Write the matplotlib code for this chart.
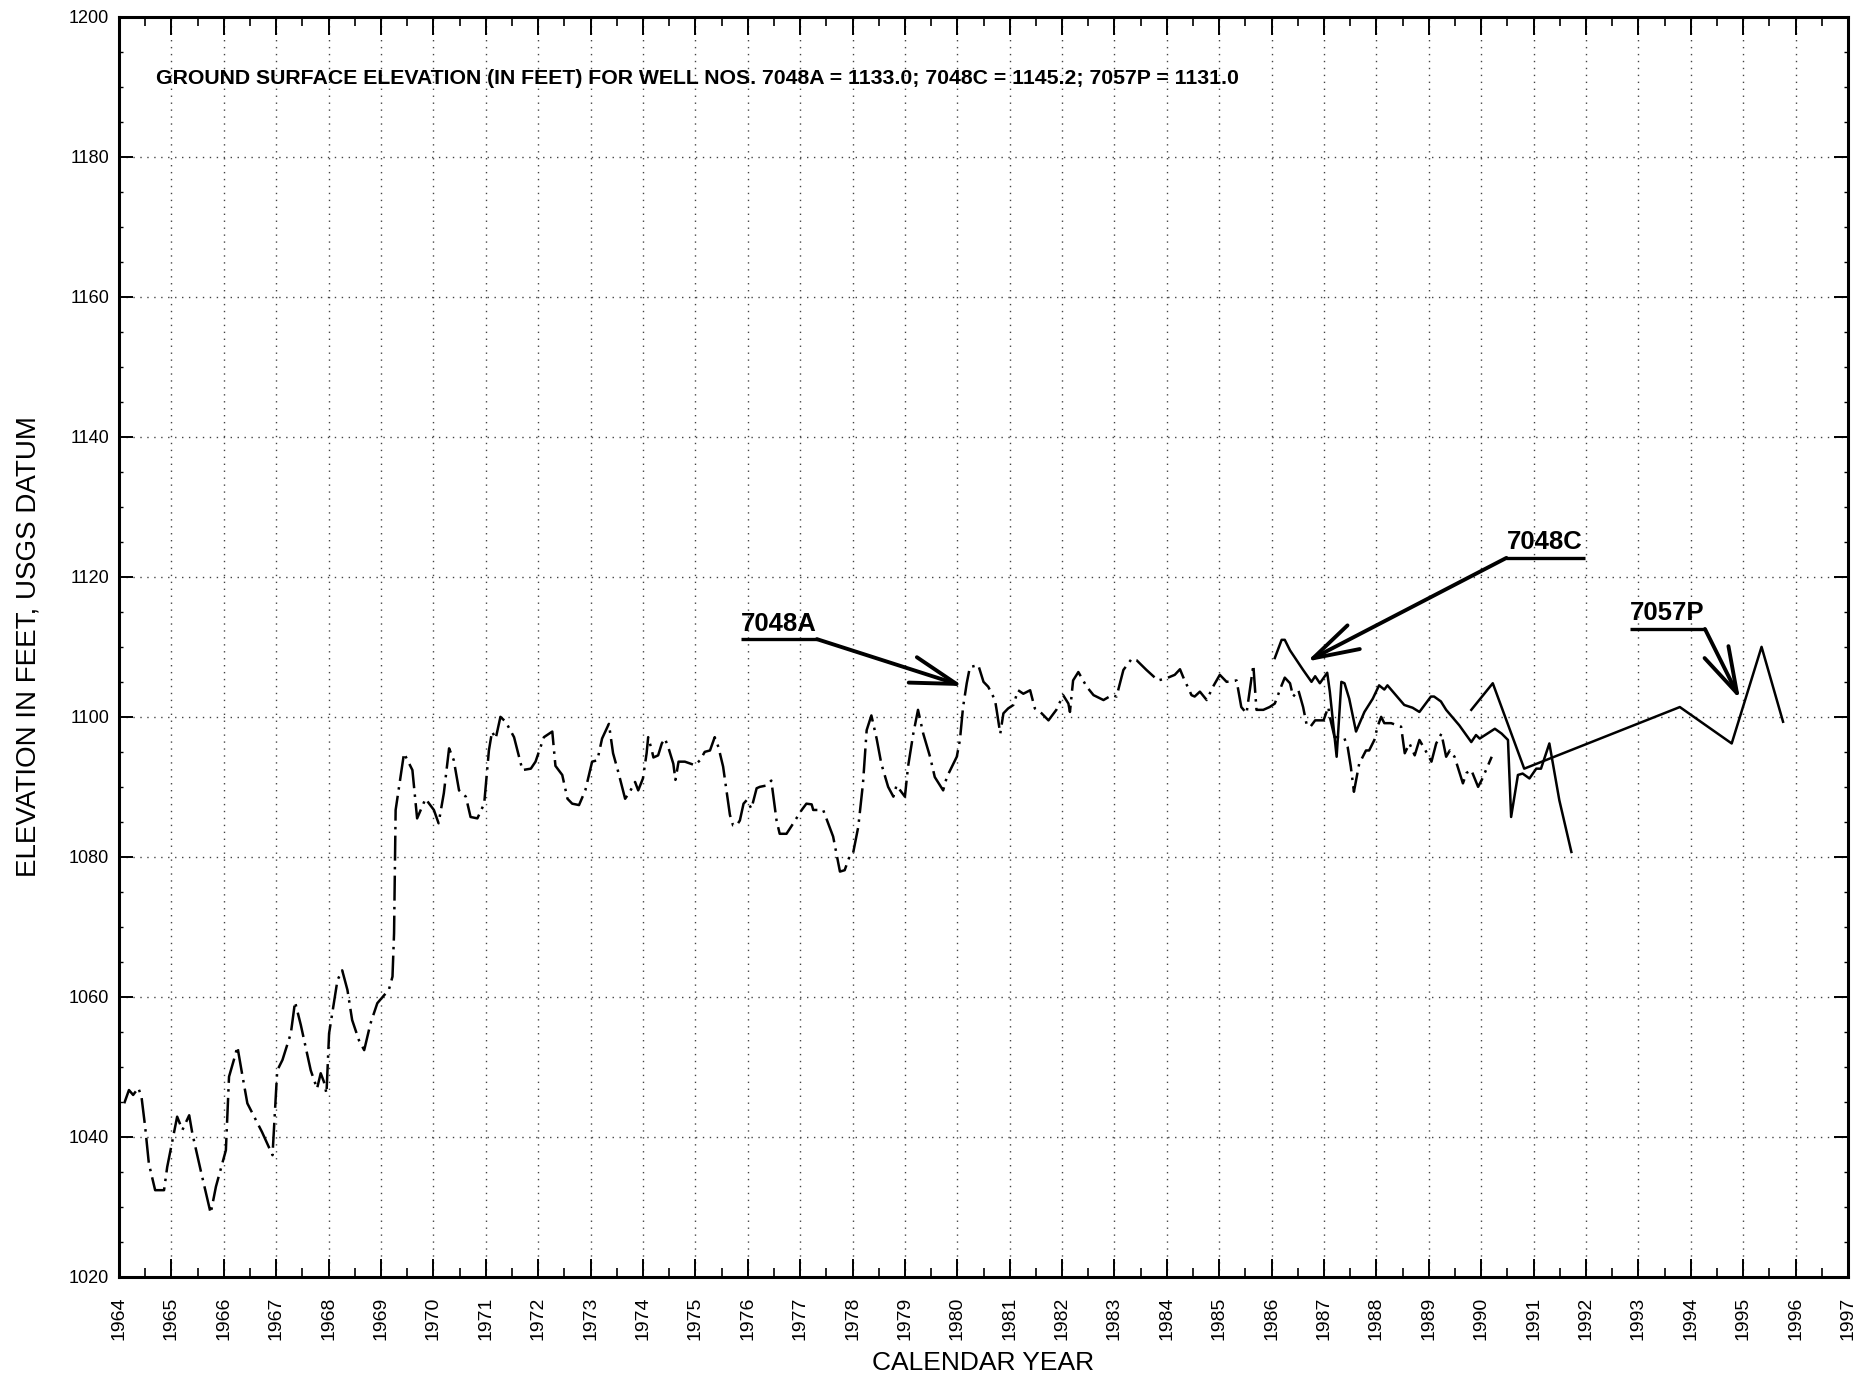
import numpy as np
import matplotlib.pyplot as plt
from matplotlib.ticker import MultipleLocator

plt.rcParams['font.family'] = ['Liberation Sans', 'DejaVu Sans']

# well 7048A water levels (decimal year, elevation ft)
yr_7048a = [1964.10, 1964.19, 1964.27, 1964.37, 1964.43, 1964.50, 1964.57, 1964.69, 1964.86, 1964.92,
            1965.02, 1965.11, 1965.21, 1965.34, 1965.40, 1965.56, 1965.75, 1965.85, 1966.04, 1966.10,
            1966.20, 1966.26, 1966.35, 1966.45, 1966.73, 1966.93, 1967.02, 1967.12, 1967.28, 1967.36,
            1967.47, 1967.66, 1967.78, 1967.85, 1967.91, 1967.96, 1968.01, 1968.17, 1968.26, 1968.36,
            1968.45, 1968.58, 1968.68, 1968.80, 1968.93, 1969.09, 1969.15, 1969.22, 1969.25, 1969.28,
            1969.44, 1969.60, 1969.69, 1969.85, 1970.01, 1970.10, 1970.20, 1970.30, 1970.39, 1970.49,
            1970.62, 1970.71, 1970.84, 1970.97, 1971.06, 1971.12, 1971.19, 1971.28, 1971.38, 1971.54,
            1971.70, 1971.86, 1971.95, 1972.11, 1972.27, 1972.33, 1972.46, 1972.56, 1972.65, 1972.78,
            1972.90, 1973.03, 1973.13, 1973.22, 1973.35, 1973.43, 1973.53, 1973.66, 1973.75, 1973.85,
            1973.91, 1974.00, 1974.07, 1974.10, 1974.17, 1974.20, 1974.29, 1974.36, 1974.42, 1974.49,
            1974.58, 1974.62, 1974.68, 1974.80, 1974.99, 1975.09, 1975.18, 1975.28, 1975.37, 1975.44,
            1975.53, 1975.66, 1975.72, 1975.79, 1975.85, 1975.92, 1975.98, 1976.07, 1976.17, 1976.23,
            1976.36, 1976.45, 1976.55, 1976.61, 1976.74, 1976.87, 1977.03, 1977.12, 1977.22, 1977.25,
            1977.44, 1977.63, 1977.76, 1977.85, 1977.95, 1978.01, 1978.11, 1978.20, 1978.27, 1978.36,
            1978.46, 1978.55, 1978.68, 1978.78, 1978.84, 1979.00, 1979.06, 1979.16, 1979.25, 1979.35,
            1979.48, 1979.57, 1979.73, 1979.80, 1979.99, 1980.05, 1980.11, 1980.18, 1980.24, 1980.40,
            1980.50, 1980.59, 1980.72, 1980.75, 1980.82, 1980.88, 1980.97, 1981.07, 1981.16, 1981.26,
            1981.39, 1981.48, 1981.61, 1981.74, 1981.89, 1982.02, 1982.12, 1982.15, 1982.21, 1982.31,
            1982.47, 1982.60, 1982.79, 1982.95, 1983.04, 1983.07, 1983.17, 1983.33, 1983.42, 1983.61,
            1983.83, 1983.99, 1984.15, 1984.25, 1984.31, 1984.47, 1984.53, 1984.63, 1984.76, 1984.88,
            1985.01, 1985.14, 1985.33, 1985.42, 1985.52, 1985.65, 1985.71, 1985.84, 1985.96, 1986.06,
            1986.19, 1986.25, 1986.35, 1986.41, 1986.51, 1986.60, 1986.67, 1986.74, 1986.83, 1986.99,
            1987.08, 1987.11, 1987.20, 1987.38, 1987.45, 1987.51, 1987.57, 1987.67, 1987.80, 1987.86,
            1987.96, 1988.02, 1988.09, 1988.15, 1988.28, 1988.47, 1988.54, 1988.63, 1988.73, 1988.82,
            1988.95, 1989.05, 1989.14, 1989.24, 1989.33, 1989.40, 1989.49, 1989.65, 1989.72, 1989.81,
            1989.94, 1990.01, 1990.20]
el_7048a = [1044.8, 1046.7, 1046.0, 1047.0, 1045.7, 1041.4, 1036.2, 1032.4, 1032.4, 1035.7,
            1039.5, 1042.9, 1041.0, 1043.1, 1040.5, 1035.2, 1029.1, 1032.9, 1038.1, 1048.6,
            1051.2, 1052.9, 1049.0, 1044.8, 1040.7, 1037.4, 1049.5, 1051.0, 1054.8, 1059.3,
            1056.0, 1049.5, 1046.9, 1049.1, 1047.9, 1046.2, 1054.8, 1062.4, 1063.8, 1061.0,
            1056.7, 1053.8, 1052.4, 1056.2, 1059.1, 1060.5, 1061.0, 1062.9, 1069.1, 1086.7,
            1094.8, 1092.4, 1085.5, 1088.3, 1086.7, 1084.8, 1089.1, 1095.5, 1093.8, 1089.5,
            1088.6, 1085.7, 1085.5, 1087.6, 1095.2, 1097.9, 1096.9, 1100.0, 1099.3, 1097.1,
            1092.4, 1092.6, 1093.6, 1097.1, 1097.9, 1093.0, 1091.7, 1088.3, 1087.6, 1087.4,
            1089.5, 1093.6, 1093.8, 1096.9, 1099.0, 1094.8, 1092.1, 1088.3, 1089.3, 1090.7,
            1089.5, 1091.2, 1094.8, 1097.1, 1095.2, 1094.2, 1094.5, 1096.2, 1096.9, 1095.5,
            1093.3, 1091.0, 1093.6, 1093.6, 1093.1, 1093.8, 1095.0, 1095.2, 1097.1, 1095.7,
            1092.9, 1086.0, 1084.5, 1084.5, 1085.2, 1087.6, 1088.1, 1086.9, 1089.8, 1090.0,
            1090.2, 1090.9, 1085.2, 1083.3, 1083.3, 1084.8, 1086.7, 1087.6, 1087.5, 1086.7,
            1086.7, 1082.9, 1077.9, 1078.1, 1080.2, 1080.5, 1084.3, 1090.5, 1098.1, 1100.2,
            1096.9, 1093.3, 1090.0, 1088.6, 1090.2, 1088.6, 1092.9, 1097.6, 1101.0, 1097.6,
            1094.3, 1091.4, 1089.5, 1091.4, 1094.3, 1096.7, 1101.4, 1104.8, 1107.1, 1107.4,
            1105.0, 1104.3, 1102.4, 1101.0, 1097.6, 1100.5, 1101.2, 1101.7, 1103.8, 1103.3,
            1103.8, 1101.2, 1100.5, 1099.5, 1101.0, 1103.1, 1101.9, 1100.7, 1105.2, 1106.4,
            1104.3, 1103.1, 1102.4, 1103.1, 1102.9, 1103.8, 1106.7, 1108.3, 1108.1, 1106.7,
            1105.2, 1105.5, 1106.0, 1106.8, 1105.7, 1103.1, 1102.9, 1103.6, 1102.4, 1104.3,
            1106.0, 1105.0, 1105.2, 1101.4, 1100.5, 1107.4, 1101.0, 1101.0, 1101.4, 1101.9,
            1104.5, 1105.6, 1104.8, 1102.9, 1103.8, 1101.4, 1098.8, 1098.6, 1099.5, 1099.5,
            1101.4, 1100.0, 1097.1, 1097.1, 1095.7, 1092.9, 1089.3, 1093.3, 1095.2, 1095.2,
            1096.7, 1098.6, 1100.0, 1099.1, 1099.1, 1098.6, 1094.8, 1096.2, 1094.5, 1096.7,
            1095.0, 1093.6, 1096.2, 1097.6, 1094.3, 1095.2, 1094.3, 1090.5, 1092.0, 1092.4,
            1090.0, 1091.0, 1094.3]

# well 7048C
yr_7048c = [1986.06, 1986.19, 1986.25, 1986.35, 1986.60, 1986.76, 1986.83, 1986.92, 1987.06, 1987.11,
            1987.24, 1987.33, 1987.39, 1987.48, 1987.61, 1987.77, 1987.93, 1988.05, 1988.15, 1988.21,
            1988.37, 1988.53, 1988.69, 1988.82, 1989.04, 1989.10, 1989.23, 1989.33, 1989.58, 1989.81,
            1989.90, 1989.97, 1990.26, 1990.39, 1990.51, 1990.57, 1990.70, 1990.79, 1990.92, 1991.05,
            1991.14, 1991.30, 1991.49, 1991.72]
el_7048c = [1108.4, 1111.0, 1111.0, 1109.5, 1106.7, 1105.0, 1105.8, 1104.8, 1106.3, 1103.6,
            1094.3, 1105.0, 1104.8, 1102.6, 1097.9, 1100.7, 1102.6, 1104.5, 1103.9, 1104.5,
            1103.1, 1101.7, 1101.3, 1100.7, 1102.9, 1102.9, 1102.2, 1101.0, 1098.8, 1096.4,
            1097.4, 1096.9, 1098.3, 1097.6, 1096.7, 1085.7, 1091.7, 1091.9, 1091.2, 1092.6,
            1092.6, 1096.2, 1088.1, 1080.7]

# well 7057P
yr_7057p = [1989.81, 1990.22, 1990.82, 1993.79, 1994.78, 1995.35, 1995.76]
el_7057p = [1101.0, 1104.8, 1092.6, 1101.4, 1096.2, 1110.0, 1099.3]

years = np.arange(1964, 1998)
elev_ticks = np.arange(1020, 1201, 20)

# well labels: name, underline start/end x, underline y, arrow tip
labels = ['7048A', '7048C', '7057P']
ul_x0 = [1975.87, 1990.48, 1992.84]
ul_x1 = [1977.32, 1991.98, 1994.27]
ul_y = [1111.1, 1122.7, 1112.55]
arrow_from_right = [True, False, True]
tip_x = [1980.11, 1986.67, 1994.94]
tip_y = [1104.4, 1107.9, 1102.5]

fig = plt.figure(figsize=(18.68, 13.78), dpi=100)
ax = fig.add_axes([0.0637, 0.0733, 0.9256, 0.9146])

ax.plot(yr_7048a, el_7048a, color='black', lw=1.8, ls=(0, (10, 2.5, 1, 2.5)), zorder=3)
ax.plot(yr_7048c, el_7048c, color='black', lw=1.8, zorder=3)
ax.plot(yr_7057p, el_7057p, color='black', lw=1.8, zorder=3)

ax.set_xlim(1964, 1997)
ax.set_ylim(1020, 1200)
ax.set_xticks(years)
ax.set_xticklabels([str(y) for y in years], rotation=90, fontsize=14)
ax.set_yticks(elev_ticks)
ax.set_yticklabels([str(v) for v in elev_ticks], fontsize=13)
ax.xaxis.set_minor_locator(MultipleLocator(0.5))
ax.yaxis.set_minor_locator(MultipleLocator(5))
ax.tick_params(which='both', direction='in', top=True, right=True, color='black')
ax.tick_params(axis='x', which='major', length=13, width=1.4, pad=14)
ax.tick_params(axis='x', which='minor', length=6.5, width=1.2)
ax.tick_params(axis='y', which='major', length=10, width=1.4, pad=7)
ax.tick_params(axis='y', which='minor', length=3, width=1.0)

ax.grid(True, which='major', color='#444444', lw=1.0, ls=(0, (1, 4)), zorder=1)
for s in ax.spines.values():
    s.set_linewidth(2.2)

ax.set_ylabel('ELEVATION IN FEET, USGS DATUM', fontsize=20, labelpad=20)
ax.set_xlabel('CALENDAR YEAR', fontsize=19, labelpad=8)

ax.text(1964.71, 1191.2,
        'GROUND SURFACE ELEVATION (IN FEET) FOR WELL NOS. 7048A = 1133.0; 7048C = 1145.2; 7057P = 1131.0',
        family=['Liberation Sans Narrow', 'Liberation Sans'], fontsize=15.3, fontweight='bold',
        va='center', ha='left')

for name, x0, x1, yu, right, tx, ty in zip(labels, ul_x0, ul_x1, ul_y, arrow_from_right, tip_x, tip_y):
    ax.text(x0, yu + 0.5, name, fontsize=18.5, fontweight='bold', ha='left', va='bottom')
    ax.plot([x0, x1], [yu, yu], color='black', lw=2.4, solid_capstyle='butt', zorder=4)
    start = (x1, yu) if right else (x0, yu)
    ax.annotate('', xy=(tx, ty), xytext=start,
                arrowprops=dict(arrowstyle='->,head_length=1.65,head_width=0.48',
                                mutation_scale=20, lw=2.8, color='black',
                                shrinkA=0, shrinkB=0),
                zorder=4)

fig.savefig('out.png', dpi=100)
